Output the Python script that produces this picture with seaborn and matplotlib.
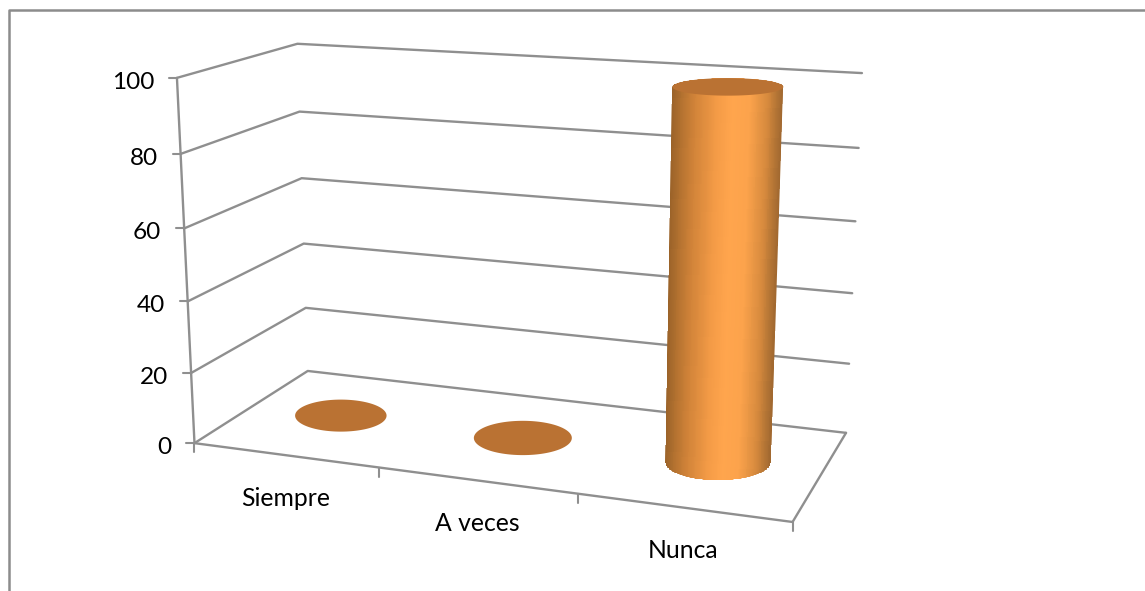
import numpy as np
import pandas as pd
import seaborn as sns
import matplotlib
matplotlib.use("Agg")
import matplotlib.pyplot as plt
from matplotlib.colors import LinearSegmentedColormap
from matplotlib.patches import Polygon

# Chart values
categories = ["Siempre", "A veces", "Nunca"]
values = [0, 0, 100]
value_ticks = [0, 20, 40, 60, 80, 100]

# Pixel anchors of the 3D box, used to calibrate the perspective scale
# (category position, value, depth) -> (x, y)
scale_box = [0, 20, 40, 60, 80, 100]
front_left_px = [(196, 443), (190, 373), (186, 301), (184, 229), (180, 154), (178, 78)]
back_left_px = [(308, 371), (305, 308), (304, 243), (301, 178), (300, 112), (298, 44)]
back_right_px = [(845, 433), (850, 364), (853, 293), (855, 222), (858, 148), (862, 72)]
floor_front_px = [(1, (380, 467)), (2, (579, 494)), (3, (792, 522))]

GRID = "#8f8f8f"
TOP = "#BA7233"
FONT = "Lato"
RADIUS_U = 0.26
RADIUS_W = 0.215

sns.set_theme(style="white")
plt.rcParams["font.family"] = [FONT, "DejaVu Sans"]


def fit_projection():
    world, pixels = [], []
    for v, a, b, c in zip(scale_box, front_left_px, back_left_px, back_right_px):
        world += [(0, v, 0), (0, v, 1), (3, v, 1)]
        pixels += [a, b, c]
    for u, p in floor_front_px:
        world.append((u, 0, 0))
        pixels.append(p)
    rows = []
    for (u, v, w), (x, y) in zip(world, pixels):
        h = [u, v / 100, w, 1]
        rows.append(h + [0, 0, 0, 0] + [-x * c for c in h])
        rows.append([0, 0, 0, 0] + h + [-y * c for c in h])
    return np.linalg.svd(np.array(rows, float))[2][-1].reshape(3, 4)


P = fit_projection()


def project(u, v, w):
    u, v, w = np.broadcast_arrays(np.asarray(u, float), np.asarray(v, float), np.asarray(w, float))
    h = np.stack([u, v / 100, w, np.ones_like(u)])
    q = P @ h.reshape(4, -1)
    return (q[0] / q[2]).reshape(u.shape), (q[1] / q[2]).reshape(u.shape)


def disc(cat, val, n=160):
    # Upright ellipse whose size follows the perspective at that spot
    t = np.linspace(0, 2 * np.pi, n, endpoint=False)
    cx, cy = project(cat + 0.5, val, 0.5)
    x0, _ = project(cat + 0.5 - RADIUS_U, val, 0.5)
    x1, _ = project(cat + 0.5 + RADIUS_U, val, 0.5)
    _, y0 = project(cat + 0.5, val, 0.5 - RADIUS_W)
    _, y1 = project(cat + 0.5, val, 0.5 + RADIUS_W)
    return cx + abs(x1 - x0) / 2 * np.cos(t), cy + abs(y0 - y1) / 2 * np.sin(t)


def hull(pts):
    pts = sorted(map(tuple, pts))
    def half(seq):
        out = []
        for p in seq:
            while len(out) > 1:
                a, b = np.subtract(out[-1], out[-2]), np.subtract(p, out[-1])
                if a[0] * b[1] - a[1] * b[0] > 0:
                    break
                out.pop()
            out.append(p)
        return out[:-1]
    return np.array(half(pts) + half(pts[::-1]))


fig = plt.figure(figsize=(11.45, 5.91), dpi=100, facecolor="white")
ax = fig.add_axes([0, 0, 1, 1])

# Wall gridlines run from the front axis, along the side wall, to the back right
rows = []
for v in value_ticks:
    xs, ys = project([0, 0, 3], v, [0, 1, 1])
    rows += [{"line": f"g{v}", "order": i, "x": xs[i], "y": ys[i]} for i in range(3)]


# Front axis, floor outline and tick marks
def add_segment(name, a, b):
    xs, ys = project([a[0], b[0]], [a[1], b[1]], [a[2], b[2]])
    rows.extend({"line": name, "order": i, "x": xs[i], "y": ys[i]} for i in range(2))


add_segment("axis", (0, 0, 0), (0, 100, 0))
add_segment("front", (0, 0, 0), (3, 0, 0))
add_segment("right", (3, 0, 0), (3, 0, 1))
lines = pd.DataFrame(rows)
sns.lineplot(data=lines, x="x", y="y", units="line", estimator=None, sort=False,
             color=GRID, lw=1.7, ax=ax, legend=False, zorder=1)

for v in value_ticks:
    x, y = project(0, v, 0)
    ax.plot([x - 8, x], [y, y], color=GRID, lw=1.5, zorder=1)
    ax.text(x - 23, y + 4.5, str(v), ha="right", va="center", fontsize=17.6, color="black")
for i in range(4):
    x, y = project(i, 0, 0)
    ax.plot([x, x], [y, y + 9], color=GRID, lw=1.5, zorder=1)
for i, name in enumerate(categories):
    x, y = project(i + 0.5, 0, 0)
    ax.text(x, y + 43, name, ha="center", va="center", fontsize=17.8, color="black")

# Chart frame
ax.plot([9, 9, 1145], [591, 10, 10], color="#8c8c8c", lw=1.8, zorder=1)

# Cylinders: shaded side first, then the flat cap
side_map = LinearSegmentedColormap.from_list("side", [
    (0.00, "#9A6229"), (0.08, "#B0702F"), (0.20, "#CF8238"), (0.42, "#F59C47"),
    (0.55, "#FFA54D"), (0.70, "#FCA34C"), (0.86, "#D88B3E"), (1.00, "#A06830")])

for i, val in enumerate(values):
    cap = np.column_stack(disc(i, val))
    if val > 0:
        base = np.column_stack(disc(i, 0))
        outline = hull(np.vstack([cap, base]))
        ys = np.array([np.mean(cap[:, 1]), np.mean(base[:, 1])])
        left = np.array([cap[:, 0].min(), base[:, 0].min()])
        right = np.array([cap[:, 0].max(), base[:, 0].max()])
        # Extend the shading strips past both ends so the clip outline decides the shape
        dx_left, dx_right = np.diff(left)[0], np.diff(right)[0]
        scale = 40 / (ys[1] - ys[0])
        ys = np.array([ys[0] - 40, ys[1] + 40])
        left = left + np.array([-dx_left, dx_left]) * scale
        right = right + np.array([-dx_right, dx_right]) * scale
        frac = np.linspace(0, 1, 120)
        X = np.outer(left, 1 - frac) + np.outer(right, frac)
        Y = np.repeat(ys[:, None], frac.size, axis=1)
        C = ((frac[:-1] + frac[1:]) / 2)[None, :]
        mesh = ax.pcolormesh(X, Y, C, cmap=side_map, vmin=0, vmax=1, shading="flat",
                             antialiased=False, linewidth=0, zorder=2)
        clip = Polygon(outline, closed=True, transform=ax.transData, fc="none", ec="none")
        ax.add_patch(clip)
        mesh.set_clip_path(clip)
    ax.fill(cap[:, 0], cap[:, 1], color=TOP, lw=0, zorder=3)

ax.set_xlim(0, 1145)
ax.set_ylim(591, 0)
ax.axis("off")
fig.savefig("out.png", dpi=100, facecolor="white")
